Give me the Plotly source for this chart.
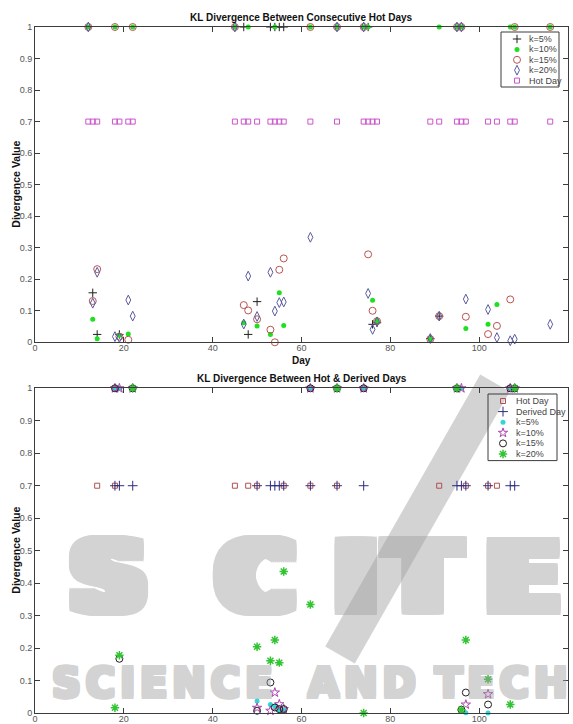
import plotly.graph_objects as go

W, H = 573, 724

# ---------------- data: top panel (consecutive hot days) ----------------
hot_days_top = [12, 13, 14, 18, 19, 21, 22, 45, 47, 48, 50, 53, 54, 55, 56, 62, 68,
                74, 75, 76, 77, 89, 91, 95, 96, 97, 102, 104, 107, 108, 116]
hot_level = 0.7

top_k5_x = [13, 14, 19, 47, 48, 50, 53, 54, 55, 56, 75, 76, 77, 89, 91]
top_k5_y = [0.157, 0.025, 0.025, 1, 0.025, 0.129, 1, 1, 1, 1, 1, 0.057, 0.062, 0.012, 0.083]

top_days = [12, 13, 14, 18, 19, 21, 22, 45, 47, 48, 50, 53, 54, 55, 56, 62, 68,
            74, 75, 76, 77, 89, 91, 95, 96, 97, 102, 104, 107, 108, 116]
top_k10_y = [1, 0.073, 0.011, 1, 0.022, 0.026, 1, 1, 0.062, 1, 0.052, 0.025, 1, 0.157, 0.053,
             1, 1, 1, 1, 0.133, 0.068, 0.01, 1, 1, 1, 0.044, 0.057, 0.12, 1, 1, 1]
top_k15_y = [1, 0.131, 0.232, 1, 0.018, 0.008, 1, 1, 0.118, 0.101, 0.073, 0.04, 0.0, 0.23, 0.266,
             1, 1, 1, 0.279, 0.1, 0.067, 0.01, 0.083, 1, 1, 0.081, 0.026, 0.052, 0.136, 1, 1]
top_k20_y = [1, 0.124, 0.222, 0.018, 0.015, 0.134, 0.083, 1, 0.058, 0.21, 0.082, 0.222, 0.099,
             0.126, 0.128, 0.333, 1, 1, 0.155, 0.041, 0.065, 0.012, 0.083, 1, 1, 0.137, 0.104,
             0.015, 0.005, 0.01, 0.057]

# ---------------- data: bottom panel (hot vs derived days) ----------------
hot_days_bot = [14, 18, 45, 48, 50, 56, 62, 68, 91, 97, 102, 104]
derived_days = [18, 19, 22, 50, 53, 54, 55, 56, 62, 68, 74, 95, 96, 97, 102, 107, 108]
bot_k5_y = [1, 1, 1, 0.037, 0.026, 0.02, 0.008, 0.01, 1, 1, 1, 1, 1, 0.001, 0.0, 1, 1]
bot_k10_y = [1, 1, 1, 0.016, 0.007, 0.063, 0.027, 0.012, 1, 1, 1, 1, 1, 0.026, 0.058, 1, 1]
bot_k15_y = [1, 0.167, 1, 0.007, 0.094, 0.017, 0.012, 0.012, 1, 1, 1, 1, 0.01, 0.063, 0.026, 1, 1]
bot_k20_y = [0.016, 0.178, 1, 0.204, 0.161, 0.225, 0.155, 0.436, 0.334, 1, 0.0, 1, 0.01, 0.225,
             0.104, 0.026, 1]

x_ticks = [0, 20, 40, 60, 80, 100, 120]
titles = ["KL Divergence Between Consecutive Hot Days", "KL Divergence Between Hot & Derived Days"]

# ---------------- styles ----------------
top_series = [
    dict(name="k=5%", x=top_k5_x, y=top_k5_y, symbol="cross-thin-open", size=6, color="#202020", lw=1),
    dict(name="k=10%", x=top_days, y=top_k10_y, symbol="circle", size=5, color="#1ee01e", lw=0),
    dict(name="k=15%", x=top_days, y=top_k15_y, symbol="circle-open", size=7, color="#b85450", lw=1),
    dict(name="k=20%", x=top_days, y=top_k20_y, symbol="diamond-tall-open", size=7, color="#5a5aa0", lw=1),
    dict(name="Hot Day", x=hot_days_top, y=[hot_level] * len(hot_days_top), symbol="square-open",
         size=5, color="#cc55cc", lw=1),
]
bot_series = [
    dict(name="Hot Day", x=hot_days_bot, y=[hot_level] * len(hot_days_bot), symbol="square-open",
         size=5, color="#b05050", lw=1),
    dict(name="Derived Day", x=derived_days, y=[hot_level] * len(derived_days), symbol="cross-thin-open",
         size=7, color="#2c2c80", lw=1),
    dict(name="k=5%", x=derived_days, y=bot_k5_y, symbol="circle", size=5, color="#33d6d6", lw=0),
    dict(name="k=10%", x=derived_days, y=bot_k10_y, symbol="star-open", size=7, color="#b040b0", lw=1),
    dict(name="k=15%", x=derived_days, y=bot_k15_y, symbol="circle-open", size=7, color="#202020", lw=1),
    dict(name="k=20%", x=derived_days, y=bot_k20_y, symbol="asterisk-open", size=7, color="#33c433", lw=1.5),
]


def py(p):
    return 1 - p / H


def px(p):
    return p / W


def thick_shadow(dx, dy, col):
    offs = []
    for ox in range(-dx, dx + 1, 2):
        for oy in range(-dy, dy + 1, 2):
            offs.append("%dpx %dpx 0 %s" % (ox, oy, col))
    return ", ".join(offs)


fig = go.Figure()

FONT = "Liberation Sans, Arial, sans-serif"
WM_FONT = "DejaVu Sans, sans-serif"
wm_solid = "#a0a0a0"

# ---- watermark of the source page (faint, group opacity) ----
fig.add_shape(type="line", xref="paper", yref="paper", x0=px(495), y0=py(383), x1=px(340), y1=py(655),
              line=dict(color="rgba(150,150,150,0.42)", width=34), layer="below")
for letter, cx in [("S", 108), ("C", 255), ("I", 356), ("T", 423), ("E", 523)]:
    fig.add_annotation(x=px(cx), y=py(578), xref="paper", yref="paper", text="<b>%s</b>" % letter,
                       showarrow=False, xanchor="center", yanchor="middle", opacity=0.45,
                       font=dict(family=WM_FONT, size=96, color=wm_solid,
                                 shadow=thick_shadow(12, 4, wm_solid)))
for word, x0 in [("SCIENCE", 50), ("AND", 306), ("TECHNOLOGY", 433)]:
    fig.add_annotation(x=px(x0), y=py(683), xref="paper", yref="paper",
                       text='<span style="letter-spacing:5px"><b>%s</b></span>' % word,
                       showarrow=False, xanchor="left", yanchor="middle", opacity=0.45,
                       font=dict(family=WM_FONT, size=40, color=wm_solid,
                                 shadow=thick_shadow(2, 2, wm_solid)))

panels = [
    dict(series=top_series, xa="x", ya="y", top=27, bottom=342.3,
         legend=dict(x0=501, x1=559, y0=32, ystep=10.4, sym_x=517, txt_x=527)),
    dict(series=bot_series, xa="x2", ya="y2", top=388.3, bottom=713,
         legend=dict(x0=488, x1=557, y0=394, ystep=10.6, sym_x=503, txt_x=514)),
]

AX_L, AX_R = 35, 568
line_col = "#3c3c3c"
tick_font = dict(family=FONT, size=9, color="#555555")

for i, pnl in enumerate(panels):
    for s in pnl["series"]:
        fig.add_trace(go.Scatter(
            x=s["x"], y=s["y"], mode="markers", name=s["name"], showlegend=False,
            xaxis=pnl["xa"], yaxis=pnl["ya"], cliponaxis=False,
            marker=dict(symbol=s["symbol"], size=s["size"], color=s["color"],
                        line=dict(color=s["color"], width=s["lw"]))))
    # custom legend box drawn in a pixel overlay axis
    lg = pnl["legend"]
    n = len(pnl["series"])
    y1 = lg["y0"] + lg["ystep"] * n + 3
    fig.add_shape(type="rect", xref="paper", yref="paper",
                  x0=px(lg["x0"]), x1=px(lg["x1"]), y0=py(lg["y0"]), y1=py(y1),
                  line=dict(color=line_col, width=1), fillcolor="rgba(0,0,0,0)", layer="above")
    for j, s in enumerate(pnl["series"]):
        yy = lg["y0"] + 7 + lg["ystep"] * j
        fig.add_trace(go.Scatter(
            x=[lg["sym_x"]], y=[yy], mode="markers", showlegend=False, hoverinfo="skip",
            xaxis="x3", yaxis="y3", cliponaxis=False,
            marker=dict(symbol=s["symbol"], size=s["size"], color=s["color"],
                        line=dict(color=s["color"], width=s["lw"]))))
        fig.add_annotation(x=lg["txt_x"], y=yy, xref="x3", yref="y3", text=s["name"],
                           showarrow=False, xanchor="left", yanchor="middle",
                           font=dict(family=FONT, size=9, color="#444444"))
    fig.add_annotation(x=(AX_L + AX_R) / 2, y=pnl["top"] - 10, xref="x3", yref="y3",
                       text="<b>%s</b>" % titles[i],
                       showarrow=False, xanchor="center", yanchor="middle",
                       font=dict(family=FONT, size=10, color="#111111"))
    fig.add_annotation(x=16, y=(pnl["top"] + pnl["bottom"]) / 2, xref="x3", yref="y3",
                       text="<b>Divergence Value</b>", textangle=-90, showarrow=False,
                       xanchor="center", yanchor="middle",
                       font=dict(family=FONT, size=10.5, color="#111111"))

fig.add_annotation(x=(AX_L + AX_R) / 2, y=360, xref="x3", yref="y3", text="<b>Day</b>",
                   showarrow=False, xanchor="center", yanchor="middle",
                   font=dict(family=FONT, size=10, color="#111111"))

common_x = dict(range=[0, 120], tickvals=x_ticks, ticks="inside", ticklen=5, showline=True,
                linecolor=line_col, linewidth=1, mirror="ticks", showgrid=False, zeroline=False,
                tickcolor=line_col, tickfont=tick_font, domain=[px(AX_L), px(AX_R)],
                automargin=False, ticklabelstandoff=-3)
common_y = dict(range=[0, 1], dtick=0.1, ticks="inside", ticklen=5, showline=True,
                linecolor=line_col, linewidth=1, mirror="ticks", showgrid=False, zeroline=False,
                tickcolor=line_col, tickfont=tick_font, automargin=False)

fig.update_layout(
    template="none",
    width=W, height=H, margin=dict(l=0, r=0, t=0, b=0, pad=0, autoexpand=False),
    paper_bgcolor="white", plot_bgcolor="rgba(0,0,0,0)", showlegend=False,
    xaxis=dict(common_x, anchor="y"),
    yaxis=dict(common_y, anchor="x", domain=[py(342.3), py(27)]),
    xaxis2=dict(common_x, anchor="y2"),
    yaxis2=dict(common_y, anchor="x2", domain=[py(713), py(388.3)]),
    xaxis3=dict(range=[0, W], domain=[0, 1], visible=False, anchor="y3", fixedrange=True,
                automargin=False),
    yaxis3=dict(range=[H, 0], domain=[0, 1], visible=False, anchor="x3", fixedrange=True,
                automargin=False),
)

fig.write_html("out.html", config={"displayModeBar": False},
               post_script="document.body.style.margin='0px';document.body.style.overflow='hidden';")
